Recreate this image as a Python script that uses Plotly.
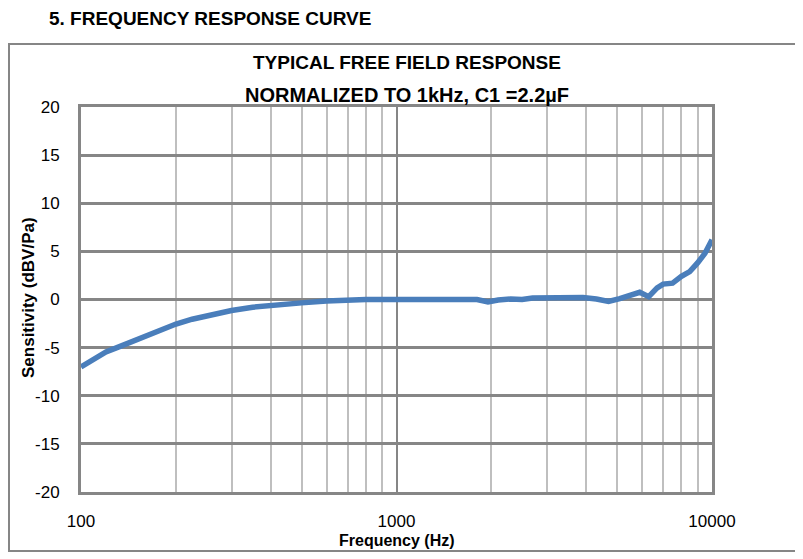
import plotly.graph_objects as go

freq = [100, 110, 120, 130, 140, 150, 160, 170, 185, 200, 225, 250, 275, 300, 350, 400, 450, 500, 600, 700, 800,
        1000, 1300, 1600, 1700, 1800, 1950, 2100, 2300, 2500, 2700, 3000, 3300, 3600, 3900,
        4300, 4700, 5100, 5500, 5900, 6300, 6700, 7000, 7500, 8000, 8500, 9000, 9500, 10000]
sens = [-7.0, -6.2, -5.45, -5.0, -4.6, -4.2, -3.8, -3.45, -2.95, -2.55, -2.05, -1.7, -1.4, -1.15, -0.8, -0.6, -0.45, -0.35, -0.15, -0.05, 0.0,
        0.0, 0.0, 0.05, 0.1, 0.0, -0.25, -0.05, 0.05, 0.0, 0.15, 0.15, 0.2, 0.1, 0.2,
        0.05, -0.2, 0.1, 0.5, 0.75, 0.3, 1.2, 1.6, 1.7, 2.4, 2.9, 3.8, 4.8, 6.2]

x_major = [100, 1000, 10000]
x_major_labels = ["100", "1000", "10000"]
x_minor = [200, 300, 400, 500, 600, 700, 800, 900, 2000, 3000, 4000, 5000, 6000, 7000, 8000, 9000]
y_ticks = [-20, -15, -10, -5, 0, 5, 10, 15, 20]
y_tick_labels = ["-20", "-15", "-10", "-5", "0", "5", "10", "15", "20"]

FONT = "Liberation Sans, Arial, sans-serif"
BLUE = "#4a7ebb"
DARK = "#868686"
LIGHT = "#bfbfbf"

fig = go.Figure()
fig.add_trace(go.Scatter(x=freq, y=sens, mode="lines",
                         line=dict(color=BLUE, width=5.5), showlegend=False))

# page body has an 8px margin, so figure coords = window coords - 8
OFF = 8
W, H = 803 - OFF, 559 - OFF
L, T = 81 - OFF, 107 - OFF
R = W - (712 - OFF)
B = H - (492 - OFF)
pw, ph = W - L - R, H - T - B

def px_x(p):
    return (p - OFF - L) / pw

def px_y(p):
    return (H - B - (p - OFF)) / ph

fig.update_layout(
    width=W, height=H,
    margin=dict(l=L, r=R, t=T, b=B, autoexpand=False),
    paper_bgcolor="white", plot_bgcolor="white",
    font=dict(family=FONT, color="black", size=15),
    xaxis=dict(
        type="log", range=[2, 4], automargin=False,
        tickmode="array", tickvals=x_major, ticktext=x_major_labels,
        showgrid=True, gridcolor=DARK, gridwidth=2,
        minor=dict(tickmode="array", tickvals=x_minor, showgrid=True,
                   gridcolor=LIGHT, gridwidth=2, ticks=""),
        showline=True, linecolor=DARK, linewidth=3, mirror=True,
        zeroline=False, ticks="", ticklabelstandoff=12,
        tickfont=dict(size=17),
    ),
    yaxis=dict(
        range=[-20, 20], automargin=False,
        tickmode="array", tickvals=y_ticks, ticktext=y_tick_labels,
        showgrid=True, gridcolor=DARK, gridwidth=3,
        showline=True, linecolor=DARK, linewidth=3, mirror=True,
        zeroline=False, ticks="", ticklabelstandoff=15,
        tickfont=dict(size=17),
    ),
    shapes=[dict(type="rect", xref="paper", yref="paper",
                 x0=px_x(9), x1=px_x(796), y0=px_y(551), y1=px_y(44),
                 line=dict(color=DARK, width=2), layer="below")],
    annotations=[
        dict(text="<b>5. FREQUENCY RESPONSE CURVE</b>", xref="paper", yref="paper",
             x=px_x(47), y=px_y(18), xanchor="left", yanchor="middle",
             showarrow=False, font=dict(size=19)),
        dict(text="<b>TYPICAL FREE FIELD RESPONSE</b>", xref="paper", yref="paper",
             x=px_x(407), y=px_y(63), xanchor="center", yanchor="middle",
             showarrow=False, font=dict(size=19)),
        dict(text="<b>NORMALIZED TO 1kHz, C1 =2.2µF</b>", xref="paper", yref="paper",
             x=px_x(407), y=px_y(95), xanchor="center", yanchor="middle",
             showarrow=False, font=dict(size=20)),
        dict(text="<b>Frequency (Hz)</b>", xref="paper", yref="paper",
             x=px_x(397), y=px_y(540), xanchor="center", yanchor="middle",
             showarrow=False, font=dict(size=16)),
        dict(text="<b>Sensitivity (dBV/Pa)</b>", xref="paper", yref="paper",
             x=px_x(28), y=px_y(298), xanchor="center", yanchor="middle",
             textangle=-90, showarrow=False, font=dict(size=17)),
    ],
)

fig.write_html("out.html")
